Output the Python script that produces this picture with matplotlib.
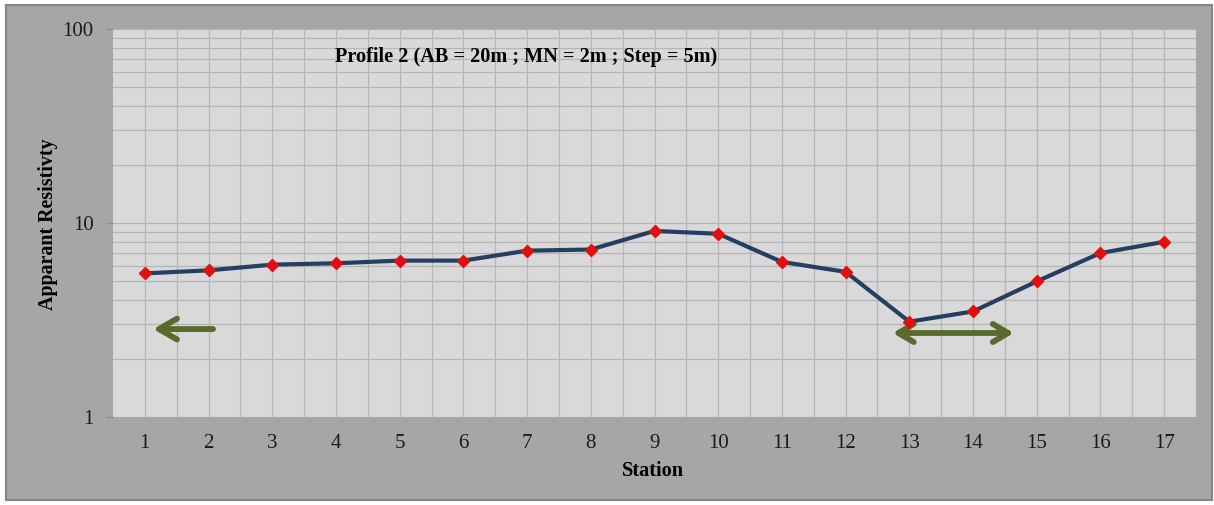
import numpy as np
import matplotlib
matplotlib.use("Agg")
import matplotlib.pyplot as plt
from matplotlib.patches import Rectangle
from matplotlib.ticker import FixedLocator, NullFormatter

plt.rcParams["font.family"] = ["Liberation Serif", "DejaVu Serif"]

# apparent resistivity along profile 2
stations = np.arange(1, 18)
resistivity = [5.5, 5.7, 6.1, 6.2, 6.4, 6.4, 7.2, 7.3, 9.1, 8.8,
               6.3, 5.6, 3.1, 3.5, 5.0, 7.0, 8.0]
station_labels = [str(s) for s in stations]

# arrows marking zones (station start, station end, resistivity level)
left_arrow = (2.07, 1.13, 2.84)
span_arrow = (12.74, 14.64, 2.71)

title = "Profile 2 (AB = 20m ; MN = 2m ; Step = 5m)"

fig = plt.figure(figsize=(12.14, 5.05), dpi=100, facecolor="white")
fig.patches.append(Rectangle((6 / 1214, 5 / 505), 1206 / 1214, 495 / 505,
                             transform=fig.transFigure, facecolor="#a6a6a6",
                             edgecolor="#858585", linewidth=1.5, zorder=-5))

ax = fig.add_axes([113 / 1214, 88 / 505, 1083 / 1214, 388 / 505])
ax.set_facecolor("#d9d9d9")
for sp in ax.spines.values():
    sp.set_visible(False)

ax.set_yscale("log")
ax.set_ylim(1, 100)
ax.set_xlim(0.5, 17.5)

# grid: every station and category boundary, log minor rows
for x in np.arange(1.0, 17.5, 0.5):
    ax.axvline(x, color="#b5b5b5", lw=0.9, zorder=1)
for dec in (1, 10):
    for m in range(2, 11):
        ax.axhline(dec * m, color="#b5b5b5", lw=0.9, zorder=1)

ax.plot(stations, resistivity, color="#253f64", lw=3, zorder=3)
ax.plot(stations, resistivity, linestyle="none", marker="D", markersize=6.5,
        color="#e01010", markeredgecolor="#e01010", zorder=4)

arrow_kw = dict(color="#586b2c", lw=4.2, shrinkA=0, shrinkB=0,
                capstyle="round", joinstyle="round")
x0, x1, y = left_arrow
ax.annotate("", xy=(x1, y), xytext=(x0, y),
            arrowprops=dict(arrowstyle="->,head_length=1.3,head_width=0.75", **arrow_kw))
x0, x1, y = span_arrow
ax.annotate("", xy=(x1, y), xytext=(x0, y),
            arrowprops=dict(arrowstyle="<->,head_length=1.1,head_width=0.65", **arrow_kw))

ax.xaxis.set_major_locator(FixedLocator(stations))
ax.set_xticklabels(station_labels)
ax.yaxis.set_major_locator(FixedLocator([1, 10, 100]))
ax.set_yticklabels(["1", "10", "100"])
ax.yaxis.set_minor_formatter(NullFormatter())
ax.yaxis.set_minor_locator(FixedLocator([]))
ax.tick_params(axis="x", length=0, pad=12, labelsize=15, colors="#1a1a1a")
ax.tick_params(axis="y", length=5, width=1, color="#8c8c8c", pad=9,
               labelsize=15, labelcolor="#1a1a1a")

ax.set_xlabel("Station", fontsize=14.7, fontweight="bold")
ax.xaxis.set_label_coords(0.499, -0.113)
ax.set_ylabel("Apparant Resistivty", fontsize=14.4, fontweight="bold")
ax.yaxis.set_label_coords(-0.051, 0.496)
ax.text(0.205, 0.928, title, transform=ax.transAxes, fontsize=14.6,
        fontweight="bold", va="center", ha="left")

fig.savefig("out.png", dpi=100, facecolor=fig.get_facecolor())
